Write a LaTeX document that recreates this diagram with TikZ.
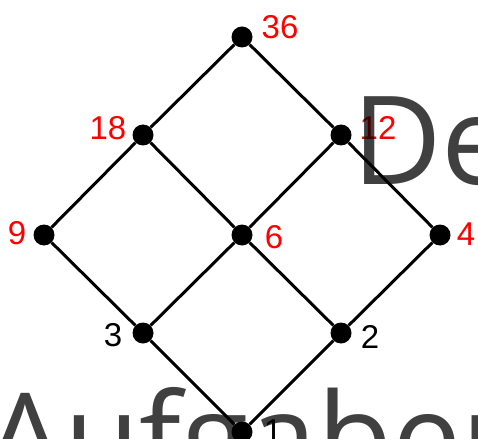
\documentclass[tikz,border=0pt]{standalone}
\usepackage{fontspec}
\newfontfamily\labfont{Liberation Sans}
\newfontfamily\pagefont{Open Sans}

\begin{document}
\begin{tikzpicture}[x=1pt, y=-1pt,
    dot/.style={circle, fill=black, inner sep=0pt, minimum size=21pt},
    num/.style={font=\labfont\fontsize{33}{33}\selectfont, inner sep=0pt},
    big/.style={font=\pagefont\fontsize{123}{123}\selectfont, text=black, text opacity=0.75, anchor=base west, inner sep=0pt}]
    \useasboundingbox (0,0) rectangle (478,438);
    % divisors of 36
    \node[dot] (n36) at (242,37) {};
    \node[dot] (n18) at (143,135) {};
    \node[dot] (n12) at (341,135) {};
    \node[dot] (n9) at (44,235) {};
    \node[dot] (n6) at (242,235) {};
    \node[dot] (n4) at (440,235) {};
    \node[dot] (n3) at (143,333) {};
    \node[dot] (n2) at (341,333) {};
    \node[dot] (n1) at (242,432) {};
    \foreach \a/\b in {n36/n18, n36/n12, n18/n9, n18/n6, n12/n6, n12/n4, n9/n3, n6/n3, n6/n2, n4/n2, n3/n1, n2/n1}
        \draw[line width=3pt] (\a) -- (\b);
    % labels
    \node[num, red] (l36) at (280,27) {36};
    \node[num, red] (l18) at (108,128) {18};
    \node[num, red] (l12) at (378,128) {12};
    \node[num, red] (l9) at (17,233) {9};
    \node[num, red] (l6) at (274,237) {6};
    \node[num, red] (l4) at (466,234) {4};
    \node[num] (l3) at (113,335) {3};
    \node[num] (l2) at (370,337) {2};
    \node[num] (l1) at (273,431) {1};
    % page text lying over the picture
    \node[big] (de) at (352,185) {De};
    \node[big] (auf) at (-14,481) {Aufgaben};
\end{tikzpicture}
\end{document}
